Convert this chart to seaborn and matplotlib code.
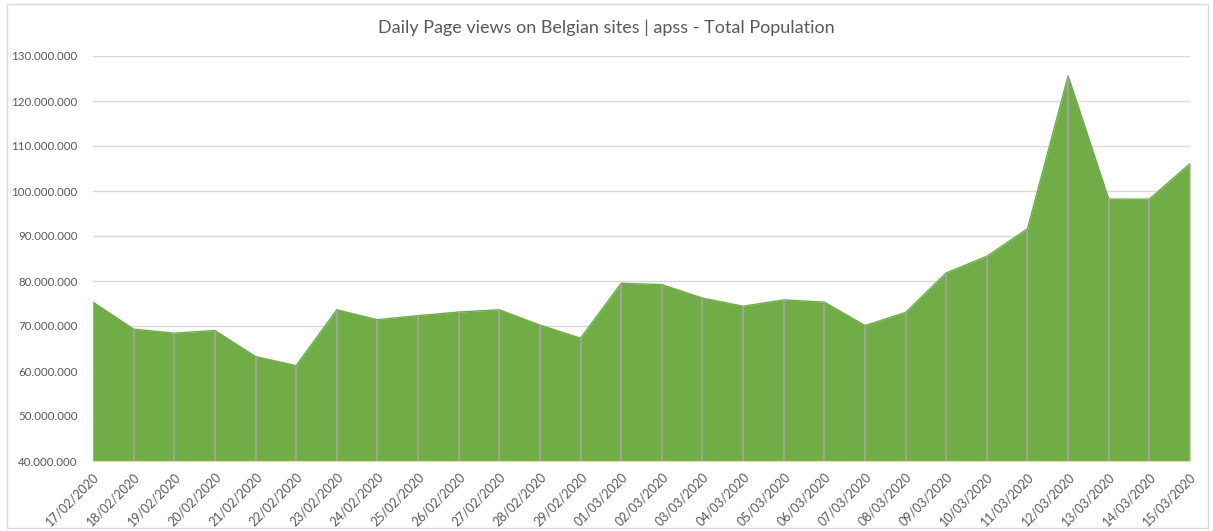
import matplotlib
matplotlib.use("Agg")
import numpy as np
import pandas as pd
import matplotlib.pyplot as plt
import seaborn as sns
from matplotlib.ticker import FuncFormatter, MultipleLocator
from matplotlib.patches import Rectangle

dates = ["17/02/2020", "18/02/2020", "19/02/2020", "20/02/2020", "21/02/2020",
         "22/02/2020", "23/02/2020", "24/02/2020", "25/02/2020", "26/02/2020",
         "27/02/2020", "28/02/2020", "29/02/2020", "01/03/2020", "02/03/2020",
         "03/03/2020", "04/03/2020", "05/03/2020", "06/03/2020", "07/03/2020",
         "08/03/2020", "09/03/2020", "10/03/2020", "11/03/2020", "12/03/2020",
         "13/03/2020", "14/03/2020", "15/03/2020"]
views_m = [75.3, 69.3, 68.4, 69.0, 63.2, 61.2, 73.6, 71.4, 72.3, 73.1,
           73.6, 70.2, 67.3, 79.5, 79.2, 76.2, 74.4, 75.8, 75.3, 70.1,
           73.0, 81.8, 85.5, 91.6, 125.6, 98.2, 98.2, 106.1]

GREEN = "#70AD47"
TXT = "#595959"

df = pd.DataFrame({"date": dates, "views": np.array(views_m) * 1e6})
df["i"] = range(len(df))

sns.set_style("white")
plt.rcParams["font.family"] = ["Lato", "DejaVu Sans"]

fig = plt.figure(figsize=(12.13, 5.31), dpi=100)
ax = fig.add_axes([93/1213, 1 - 461/531, (1190 - 93)/1213, (461 - 56)/531])

ymin = 40e6
ax.fill_between(df["i"], ymin, df["views"], color=GREEN, lw=0, zorder=2)
sns.lineplot(data=df, x="i", y="views", color=GREEN, lw=1, ax=ax, zorder=3)
# grey drop lines at every day
ax.vlines(df["i"], ymin, df["views"], color="#A5A5A5", lw=1.2, zorder=4)

ax.set_xlim(0, len(df) - 1)
ax.set_ylim(ymin, 130e6)
ax.yaxis.set_major_locator(MultipleLocator(10e6))
ax.yaxis.set_major_formatter(FuncFormatter(lambda v, p: f"{int(v):,}".replace(",", ".")))
ax.grid(axis="y", color="#D9D9D9", lw=1, zorder=0)
ax.set_axisbelow(True)

ax.set_xticks(df["i"])
ax.set_xticklabels(df["date"], rotation=45, ha="right", rotation_mode="anchor")
ax.tick_params(axis="x", length=0, pad=7, labelsize=9, colors=TXT)
ax.tick_params(axis="y", length=0, pad=11, labelsize=8.3, colors=TXT)
ax.set_xlabel("")
ax.set_ylabel("")

for s in ["top", "right", "left"]:
    ax.spines[s].set_visible(False)
ax.spines["bottom"].set_color("#D9D9D9")
ax.spines["bottom"].set_zorder(5)

fig.text(0.5, 1 - 28/531, "Daily Page views on Belgian sites | apss - Total Population",
         ha="center", va="center", fontsize=13, color=TXT)

fig.patches.append(Rectangle((7/1213, 3/531), 1201/1213, 524/531, transform=fig.transFigure,
                             fill=False, edgecolor="#D9D9D9", lw=1))

fig.savefig("out.png", dpi=100)
